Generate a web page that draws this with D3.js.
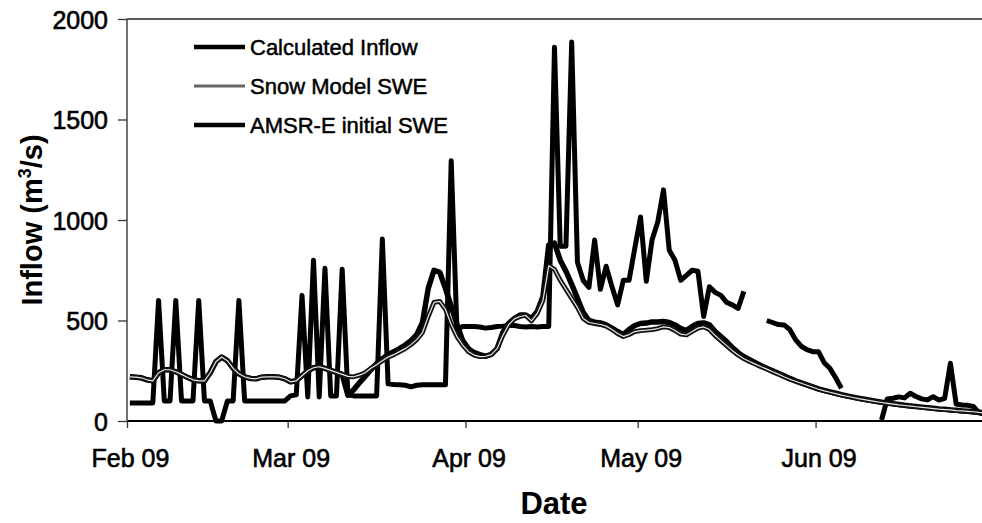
<!DOCTYPE html>
<html><head><meta charset="utf-8">
<script src="https://cdn.jsdelivr.net/npm/d3@7/dist/d3.min.js"></script>
<style>
body{margin:0;background:#fff}
svg{display:block}
text{font-family:"Liberation Sans",Arial,sans-serif;fill:#000}
</style>
</head><body>
<svg id="chart" width="982" height="523"></svg>
<script>
// ---- data (daily, starting 1 Feb 2009) ----
const startDate = [2009, 1, 1]; // year, month index (Feb), day
const calculatedInflow = [
  90,90,90,90,90,600,100,100,600,100,
  100,100,600,100,100,0,0,100,100,600,
  100,100,100,100,100,100,100,100,125,130,
  625,120,800,120,760,125,125,755,130,125,
  125,125,125,125,905,185,182,180,178,170,
  178,180,180,180,180,180,1295,455,470,470,
  470,468,462,465,470,472,475,475,470,468,
  470,468,470,470,1860,870,870,1885,790,700,
  665,900,655,770,670,578,700,700,860,1015,
  695,900,990,1150,850,800,700,725,750,745,
  520,668,640,625,590,578,560,645,null,null,
  null,500,490,480,478,455,405,372,355,345,
  345,290,262,215,163,null,null,null,null,null,
  null,5,110,113,120,115,138,122,110,105,
  121,104,113,287,85,80,78,72,40,35
];
const snowModelSWE = [
  220,218,215,205,200,240,255,255,245,232,
  218,205,200,200,240,295,318,300,262,235,
  220,212,210,218,220,220,218,210,195,200,
  225,250,265,270,262,252,242,232,222,220,
  228,240,262,280,300,318,330,345,360,380,
  405,440,520,590,595,555,480,420,378,345,
  328,320,322,330,360,425,478,508,520,525,
  498,535,600,772,755,700,655,610,565,510,
  490,485,480,472,455,435,420,430,445,450,
  452,455,460,468,465,450,432,428,445,462,
  468,455,425,400,375,350,328,310,296,283,
  270,258,245,233,220,208,198,188,178,168,
  158,150,143,136,129,123,117,111,106,101,
  96,92,88,84,80,77,74,71,68,65,
  62,59,57,55,52,50,48,46,43,41
];
const amsrInitialSWE = [
  220,218,215,205,200,240,255,255,245,232,
  218,205,200,200,240,295,318,300,262,235,
  220,212,210,218,220,220,218,210,195,200,
  225,250,265,270,262,252,242,232,128,155,
  190,222,255,285,310,330,345,360,378,400,
  430,490,660,750,740,660,570,480,400,360,
  340,330,322,332,360,440,485,510,527,527,
  510,545,620,875,885,800,745,680,610,540,
  500,492,488,478,462,445,430,455,475,485,
  487,493,493,495,490,478,460,450,470,485,
  488,478,445,420,395,365,340,320,305,290,
  275,262,250,238,225,212,200,190,180,170,
  160,152,145,138,131,125,119,113,108,103,
  98,94,90,86,82,78,75,72,69,66,
  63,60,58,55,53,50,48,45,43,41
];
const yTicks = [0, 500, 1000, 1500, 2000];
const monthTickDates = ["2009-02-01","2009-03-01","2009-04-01","2009-05-01","2009-06-01"];
const monthTickLabels = ["Feb 09","Mar 09","Apr 09","May 09","Jun 09"];
const legendLabels = ["Calculated Inflow","Snow Model SWE","AMSR-E initial SWE"];
const xAxisTitle = "Date";

// ---- layout ----
const svg = d3.select("#chart");
const plotLeft = 127, plotTop = 19, plotBottom = 421;
const x = d3.scaleUtc()
  .domain([new Date(Date.UTC(2009,1,1)), new Date(Date.UTC(2009,6,1))])
  .range([plotLeft, 987.7]);
const y = d3.scaleLinear().domain([0, 2000]).range([plotBottom, plotTop]);

const dayDate = i => new Date(Date.UTC(startDate[0], startDate[1], startDate[2] + i, 12));
const toPoints = arr => arr.map((v, i) => ({d: dayDate(i), v}));

const line = d3.line()
  .defined(p => p.v !== null)
  .x(p => x(p.d))
  .y(p => y(p.v));

// frame
svg.append("line").attr("x1", plotLeft).attr("x2", 982).attr("y1", plotTop).attr("y2", plotTop)
  .attr("stroke", "#222").attr("stroke-width", 1.6);

// x axis
const xAxis = d3.axisBottom(x)
  .tickValues(monthTickDates.map(s => new Date(s + "T00:00:00Z")))
  .tickSize(7).tickFormat((d, i) => monthTickLabels[i]);
const gx = svg.append("g").attr("transform", `translate(0,${plotBottom})`).call(xAxis);
gx.select(".domain").attr("stroke", "#000").attr("stroke-width", 2)
  .attr("d", `M${plotLeft},0H982`);
gx.selectAll(".tick line").attr("stroke", "#333").attr("stroke-width", 1.3);
gx.selectAll(".tick text").attr("font-size", 25).attr("dy", null).attr("y", 46)
  .attr("dx", 3).attr("font-family", "'Liberation Sans', Arial, sans-serif").attr("fill", "#000")
  .attr("stroke", "#000").attr("stroke-width", 0.6);

// y axis
const yAxis = d3.axisLeft(y).tickValues(yTicks).tickSize(9).tickFormat(d3.format("d"));
const gy = svg.append("g").attr("transform", `translate(${plotLeft},0)`).call(yAxis);
gy.select(".domain").attr("stroke", "#444").attr("stroke-width", 1.5)
  .attr("d", `M0,${plotTop}V${plotBottom}`);
gy.selectAll(".tick line").attr("stroke", "#333").attr("stroke-width", 1.3);
gy.selectAll(".tick text").attr("font-size", 25).attr("dy", null).attr("y", 9)
  .attr("x", -19).attr("font-family", "'Liberation Sans', Arial, sans-serif").attr("fill", "#000")
  .attr("stroke", "#000").attr("stroke-width", 0.6);

// series
const plot = svg.append("g");
plot.append("path").datum(toPoints(calculatedInflow))
  .attr("d", line).attr("fill", "none").attr("stroke", "#000")
  .attr("stroke-width", 5).attr("stroke-linejoin", "round");
plot.append("path").datum(toPoints(amsrInitialSWE))
  .attr("d", line).attr("fill", "none").attr("stroke", "#000")
  .attr("stroke-width", 5.5).attr("stroke-linejoin", "round");
const smPts = toPoints(snowModelSWE);
plot.append("path").datum(smPts)
  .attr("d", line).attr("fill", "none").attr("stroke", "#111")
  .attr("stroke-width", 4.8).attr("stroke-linejoin", "round");
plot.append("path").datum(smPts)
  .attr("d", line).attr("fill", "none").attr("stroke", "#e6e6e6")
  .attr("stroke-width", 1.2).attr("stroke-linejoin", "round");

// legend
const legendY = [47, 86, 125];
const lg = svg.append("g");
legendLabels.forEach((lab, i) => {
  const yy = legendY[i];
  lg.append("line").attr("x1", 194).attr("x2", 245).attr("y1", yy).attr("y2", yy)
    .attr("stroke", i === 1 ? "#666" : "#000").attr("stroke-width", i === 1 ? 3 : 4.5);
  lg.append("text").attr("x", 250).attr("y", yy + 8).attr("font-size", 22)
    .attr("stroke", "#000").attr("stroke-width", 0.5).text(lab);
});

// axis titles
svg.append("text").attr("x", 554).attr("y", 514).attr("text-anchor", "middle")
  .attr("font-size", 31).attr("font-weight", "bold").text(xAxisTitle);
const yt = svg.append("text").attr("transform", "translate(42,220) rotate(-90)")
  .attr("text-anchor", "middle").attr("font-size", 29).attr("font-weight", "bold");
yt.append("tspan").text("Inflow (m");
yt.append("tspan").attr("font-size", 18).attr("dy", -11).text("3");
yt.append("tspan").attr("dy", 11).text("/s)");
</script>
</body></html>
